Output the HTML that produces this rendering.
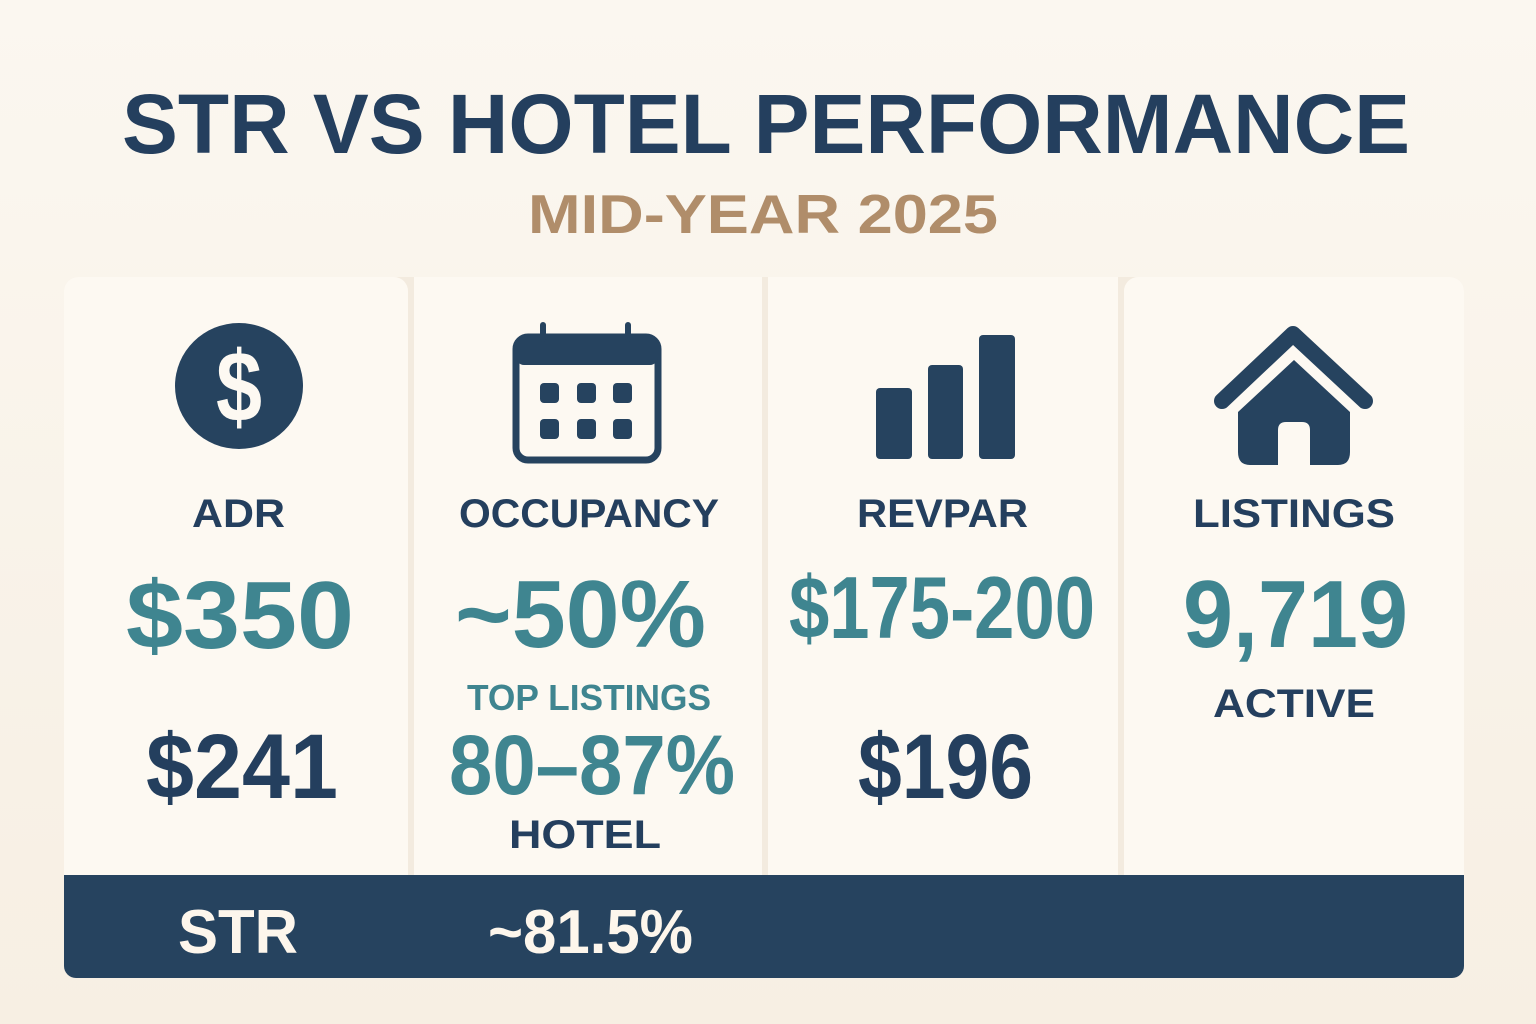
<!DOCTYPE html>
<html><head><meta charset="utf-8"><style>
html,body{margin:0;padding:0;width:1536px;height:1024px;overflow:hidden}
body{background:linear-gradient(180deg,#fbf7f0 0%,#f7efe3 100%)}
svg{display:block}
text{font-family:"Liberation Sans",sans-serif;font-weight:bold}
</style></head><body>
<svg width="1536" height="1024" viewBox="0 0 1536 1024" xmlns="http://www.w3.org/2000/svg">
<text x="122" y="153" font-size="84" fill="#243f5e" textLength="1288" lengthAdjust="spacingAndGlyphs">STR VS HOTEL PERFORMANCE</text>
<text x="528" y="233" font-size="55" fill="#b08d6a" textLength="470" lengthAdjust="spacingAndGlyphs">MID-YEAR 2025</text>
<!-- panel -->
<rect x="64" y="277" width="1400" height="701" rx="14" fill="#f3ebdf"/>
<rect x="64" y="277" width="344" height="620" rx="14" fill="#fdf9f2"/>
<rect x="414" y="277" width="348" height="620" fill="#fdf9f2"/>
<rect x="768" y="277" width="350" height="620" fill="#fdf9f2"/>
<rect x="1124" y="277" width="340" height="620" rx="14" fill="#fdf9f2"/>
<rect x="64" y="875" width="1400" height="103" rx="12" fill="#26435f"/>
<rect x="64" y="875" width="1400" height="20" fill="#26435f"/>
<!-- dollar icon -->
<ellipse cx="239" cy="386" rx="64" ry="63" fill="#26435f"/>
<text x="239" y="421" font-size="100" fill="#fdf9f2" text-anchor="middle" textLength="46" lengthAdjust="spacingAndGlyphs">$</text>
<!-- calendar -->
<rect x="516" y="337" width="142" height="123" rx="12" fill="none" stroke="#26435f" stroke-width="7"/>
<rect x="516" y="337" width="142" height="28" rx="8" fill="#26435f"/>
<rect x="540" y="322" width="6" height="20" rx="3" fill="#26435f"/>
<rect x="625" y="322" width="6" height="20" rx="3" fill="#26435f"/>
<g fill="#26435f">
<rect x="540" y="383" width="19" height="20" rx="4"/><rect x="577" y="383" width="19" height="20" rx="4"/><rect x="613" y="383" width="19" height="20" rx="4"/>
<rect x="540" y="419" width="19" height="20" rx="4"/><rect x="577" y="419" width="19" height="20" rx="4"/><rect x="613" y="419" width="19" height="20" rx="4"/>
<!-- bars -->
<rect x="876" y="388" width="36" height="71" rx="4"/>
<rect x="928" y="365" width="35" height="94" rx="4"/>
<rect x="979" y="335" width="36" height="124" rx="4"/>
<!-- house -->
<path d="M1238 412 L1294 360 L1350 412 L1350 452 Q1350 465 1338 465 L1310 465 L1310 430 Q1310 422 1302 422 L1286 422 Q1278 422 1278 430 L1278 465 L1250 465 Q1238 465 1238 452 Z"/>
</g>
<polyline points="1222,401 1293,334 1365,401" fill="none" stroke="#26435f" stroke-width="16" stroke-linecap="round" stroke-linejoin="round"/>
<!-- labels -->
<g fill="#243f5e" font-size="40">
<text x="192" y="527" textLength="93" lengthAdjust="spacingAndGlyphs">ADR</text>
<text x="459" y="527" textLength="260" lengthAdjust="spacingAndGlyphs">OCCUPANCY</text>
<text x="857" y="527" textLength="171" lengthAdjust="spacingAndGlyphs">REVPAR</text>
<text x="1193" y="527" textLength="202" lengthAdjust="spacingAndGlyphs">LISTINGS</text>
<text x="509" y="848" textLength="152" lengthAdjust="spacingAndGlyphs">HOTEL</text>
<text x="1213" y="717" textLength="162" lengthAdjust="spacingAndGlyphs">ACTIVE</text>
</g>
<g fill="#3f8590">
<text x="126" y="648" font-size="96" textLength="228" lengthAdjust="spacingAndGlyphs">$350</text>
<text x="455" y="647" font-size="96" textLength="251" lengthAdjust="spacingAndGlyphs">~50%</text>
<text x="789" y="638" font-size="88" textLength="306" lengthAdjust="spacingAndGlyphs">$175-200</text>
<text x="1183" y="647" font-size="96" textLength="225" lengthAdjust="spacingAndGlyphs">9,719</text>
<text x="467" y="710" font-size="36" textLength="244" lengthAdjust="spacingAndGlyphs">TOP LISTINGS</text>
<text x="449" y="794" font-size="84" textLength="286" lengthAdjust="spacingAndGlyphs">80–87%</text>
</g>
<g fill="#243f5e" font-size="92">
<text x="146" y="798" textLength="192" lengthAdjust="spacingAndGlyphs">$241</text>
<text x="858" y="798" textLength="175" lengthAdjust="spacingAndGlyphs">$196</text>
</g>
<g fill="#fdf6ec" font-size="62">
<text x="178" y="953" textLength="120" lengthAdjust="spacingAndGlyphs">STR</text>
<text x="488" y="953" textLength="205" lengthAdjust="spacingAndGlyphs">~81.5%</text>
</g>
</svg>
</body></html>
